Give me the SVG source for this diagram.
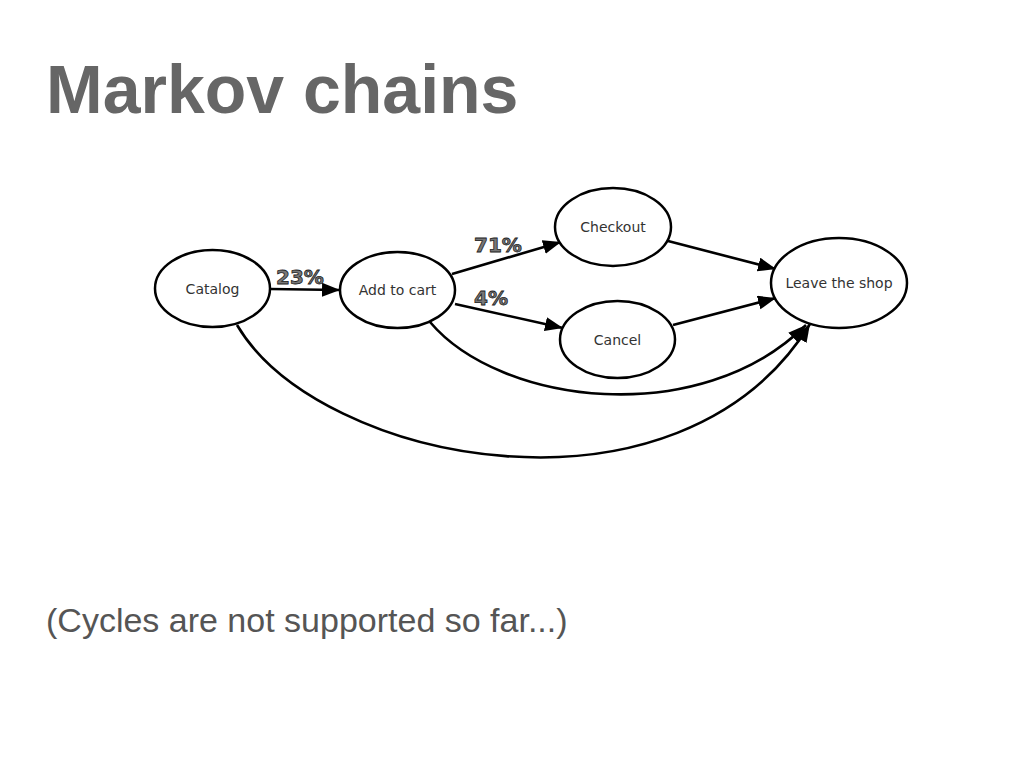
<svg xmlns="http://www.w3.org/2000/svg" width="1024" height="768" viewBox="0 0 1024 768">
<style>
.node{fill:#fff;stroke:#000;stroke-width:2.5}
.lbl{font-family:"DejaVu Sans",sans-serif;font-size:14px;fill:#333;text-anchor:middle}
.edge{fill:none;stroke:#000;stroke-width:2.6}
.pct{font-family:"DejaVu Sans",sans-serif;font-weight:bold;font-size:20px;fill:#777;stroke:#222;stroke-width:0.8}
</style>
<defs>
<marker id="arr" markerUnits="userSpaceOnUse" markerWidth="20" markerHeight="16" refX="18" refY="7" orient="auto">
<path d="M0,0 L18,7 L0,14 Z" fill="#000"/>
</marker>
</defs>
<rect width="1024" height="768" fill="#fff"/>
<text x="46" y="113" font-family="Liberation Sans,Arial,sans-serif" font-weight="bold" font-size="68" fill="#666">Markov chains</text>
<text x="46" y="632" font-family="Liberation Sans,Arial,sans-serif" font-size="34" fill="#555">(Cycles are not supported so far...)</text>
<g id="connectors">
<path class="edge" d="M270,289 L340,290" marker-end="url(#arr)"/>
<path class="edge" d="M452,274 L561,242" marker-end="url(#arr)"/>
<path class="edge" d="M455,304 L563,328" marker-end="url(#arr)"/>
<path class="edge" d="M668,241 L776,269" marker-end="url(#arr)"/>
<path class="edge" d="M673,325 L776,298" marker-end="url(#arr)"/>
<path class="edge" d="M430,322 C500,405 700,430 806,325" marker-end="url(#arr)"/>
<path class="edge" d="M237,325 C320,465 680,535 810,324" marker-end="url(#arr)"/>
</g>
<g id="labels">
<text class="pct" x="276" y="284">23%</text>
<text class="pct" x="474" y="252">71%</text>
<text class="pct" x="474" y="305">4%</text>
</g>
<g id="catalog"><ellipse class="node" cx="212.5" cy="288.5" rx="57.5" ry="38.5"/><text class="lbl" x="212.5" y="293.5">Catalog</text></g>
<g id="addtocart"><ellipse class="node" cx="397.5" cy="290" rx="57.5" ry="38"/><text class="lbl" x="397.5" y="295">Add to cart</text></g>
<g id="checkout"><ellipse class="node" cx="613" cy="227" rx="58" ry="39"/><text class="lbl" x="613" y="232">Checkout</text></g>
<g id="cancel"><ellipse class="node" cx="617.5" cy="339.5" rx="57.5" ry="38.5"/><text class="lbl" x="617.5" y="344.5">Cancel</text></g>
<g id="leave"><ellipse class="node" cx="839" cy="283" rx="68" ry="45"/><text class="lbl" x="839" y="288">Leave the shop</text></g>
</svg>
